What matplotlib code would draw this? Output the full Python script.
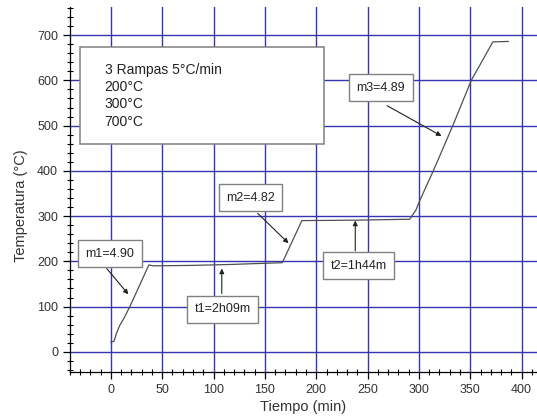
import numpy as np
import matplotlib
matplotlib.use('Agg')
import matplotlib.pyplot as plt
from matplotlib.ticker import MultipleLocator

plt.rcParams['font.family'] = ['Liberation Sans', 'DejaVu Sans']

# temperature curve
tiempo = [0, 3, 5.5, 8.8, 12.7, 18.5, 37, 41, 80, 116, 167,
          186, 240, 291, 297, 301, 314, 333, 351, 372, 387]
temp = [22, 23, 41, 59, 74, 100, 192, 190, 191, 193, 197,
        290, 291, 293, 313, 335, 400, 500, 600, 685, 686]

# annotation boxes: text, box centre, arrow tail, arrow head
notas = ['m1=4.90', 't1=2h09m', 'm2=4.82', 't2=1h44m', 'm3=4.89']
caja_xy = [(-1, 217), (109, 94), (136, 340), (241, 190), (263, 584)]
flecha_de = [(-4, 184), (108, 129), (143, 306), (238, 223), (269, 544)]
flecha_a = [(17, 127), (108, 184), (173, 240), (238, 290), (322, 477)]

leyenda = '3 Rampas 5°C/min\n200°C\n300°C\n700°C'

fig = plt.figure(figsize=(5.37, 4.16), dpi=100)
ax = fig.add_axes([0.130, 0.1065, 0.870, 0.8765])

ax.plot(tiempo, temp, color='#505050', lw=0.9, zorder=3)

ax.set_xlim(-40, 415)
ax.set_ylim(-44, 762)
ax.xaxis.set_major_locator(MultipleLocator(50))
ax.xaxis.set_minor_locator(MultipleLocator(10))
ax.yaxis.set_major_locator(MultipleLocator(100))
ax.yaxis.set_minor_locator(MultipleLocator(20))
ax.set_xticks(np.arange(0, 401, 50))
ax.set_yticks(np.arange(0, 701, 100))

ax.tick_params(which='major', direction='out', length=5, width=0.9,
               labelsize=9, color='black', labelcolor='#333333')
ax.tick_params(which='minor', direction='inout', length=4, width=0.8)
ax.grid(True, which='major', color='#3535b0', lw=1.0, zorder=0)
ax.set_axisbelow(True)
for s in ['top', 'right']:
    ax.spines[s].set_visible(False)
for s in ['left', 'bottom']:
    ax.spines[s].set_linewidth(0.9)

ax.set_xlabel('Tiempo (min)', fontsize=10.5, color='#333333', labelpad=3)
ax.set_ylabel('Temperatura (°C)', fontsize=10.5, color='#333333')
ax.yaxis.set_label_coords(-0.09, 0.456)

ax.add_patch(plt.Rectangle((-30, 460), 238, 214, fc='white', ec='#808080',
                           lw=1.1, zorder=4))
ax.text(-6, 566, leyenda, fontsize=10, color='#222222', va='center',
        ha='left', linespacing=1.3, zorder=5)

for txt, c, a0, a1 in zip(notas, caja_xy, flecha_de, flecha_a):
    ax.text(c[0], c[1], txt, fontsize=9, color='#222222', ha='center',
            va='center', zorder=6,
            bbox=dict(boxstyle='square,pad=0.6', fc='white', ec='#808080',
                      lw=1.0))
    ax.annotate('', xy=a1, xytext=a0, zorder=6,
                arrowprops=dict(arrowstyle='-|>', color='#222222', lw=0.8,
                                mutation_scale=7, shrinkA=0, shrinkB=0))

fig.savefig('out.png', dpi=100)
